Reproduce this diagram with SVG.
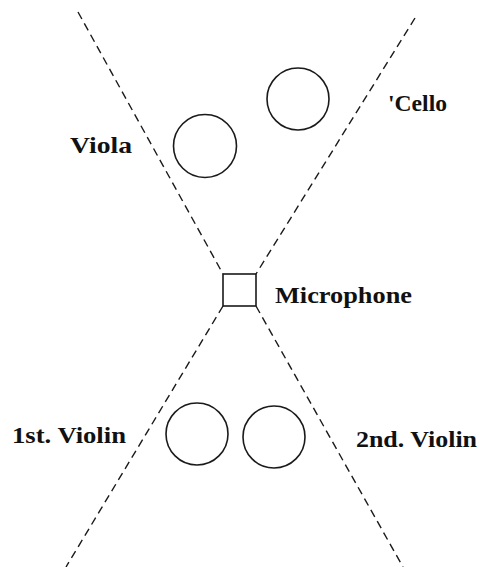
<svg xmlns="http://www.w3.org/2000/svg" width="480" height="567" viewBox="0 0 480 567">
<style>
.bg{fill:#ffffff}
.dash{fill:none;stroke:#1a1a1a;stroke-width:1.4;stroke-dasharray:8 5}
.inst{fill:none;stroke:#1a1a1a;stroke-width:1.6}
.lbl{font-family:"Liberation Serif","DejaVu Serif",serif;font-size:24px;fill:#111111;font-weight:bold}
</style>
<rect class="bg" x="0" y="0" width="480" height="567"/>
<g id="connectors">
<line class="dash" x1="78" y1="12" x2="223" y2="274"/>
<line class="dash" x1="415" y1="18" x2="256" y2="274"/>
<line class="dash" x1="223" y1="306" x2="66" y2="567"/>
<line class="dash" x1="256" y1="306" x2="403" y2="567"/>
</g>
<g id="microphone">
<rect class="inst" x="223" y="274" width="33" height="32"/>
<text class="lbl" x="275" y="303" textLength="137" lengthAdjust="spacingAndGlyphs">Microphone</text>
</g>
<g id="viola">
<circle class="inst" cx="205" cy="146" r="31.5"/>
<text class="lbl" x="70" y="153" textLength="62" lengthAdjust="spacingAndGlyphs">Viola</text>
</g>
<g id="cello">
<circle class="inst" cx="298" cy="99" r="31"/>
<text class="lbl" x="388" y="111" textLength="59" lengthAdjust="spacingAndGlyphs">'Cello</text>
</g>
<g id="violin1">
<circle class="inst" cx="197" cy="434" r="31"/>
<text class="lbl" x="12" y="443" textLength="114" lengthAdjust="spacingAndGlyphs">1st. Violin</text>
</g>
<g id="violin2">
<circle class="inst" cx="274" cy="437" r="31"/>
<text class="lbl" x="356" y="447" textLength="121" lengthAdjust="spacingAndGlyphs">2nd. Violin</text>
</g>
</svg>
